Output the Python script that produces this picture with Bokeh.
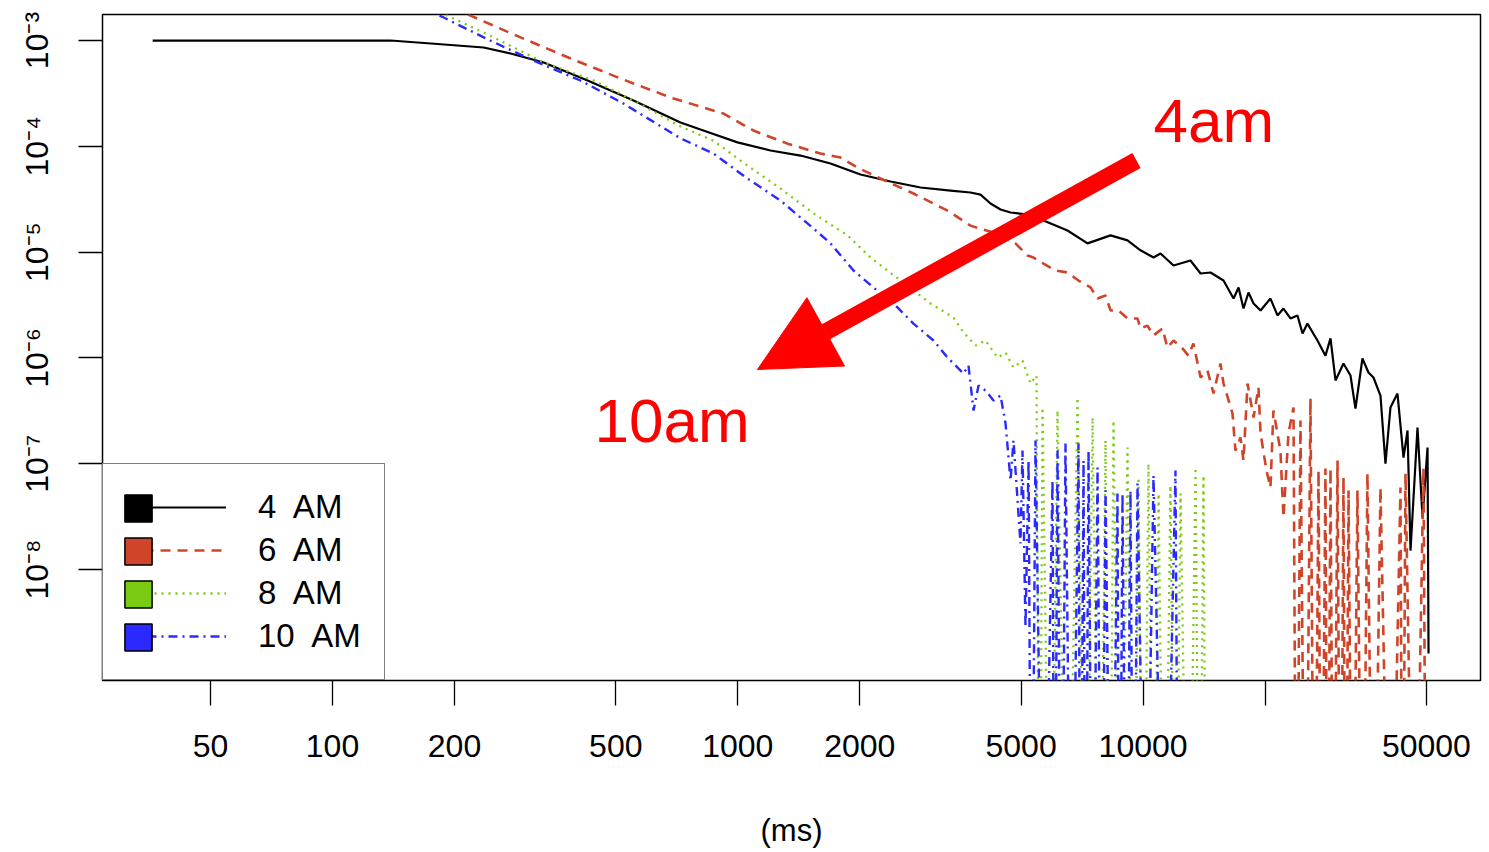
from bokeh.plotting import figure
from bokeh.models import (Range1d, FixedTicker, Legend, LegendItem, Arrow,
                          NormalHead, Label)
from bokeh.embed import file_html
from bokeh.resources import INLINE

FONT = "Liberation Sans"
NAN = float("nan")

# ---------------- axis ticks ----------------
x_ticks = [50, 100, 200, 500, 1000, 2000, 5000, 10000, 20000, 50000]
x_tick_labels = ["50", "100", "200", "500", "1000", "2000", "5000", "10000", "", "50000"]
y_ticks = [1e-8, 1e-7, 1e-6, 1e-5, 1e-4, 1e-3]
y_tick_labels = ["10\u207b\u2078", "10\u207b\u2077", "10\u207b\u2076",
                 "10\u207b\u2075", "10\u207b\u2074", "10\u207b\u00b3"]

series_labels = ["4  AM", "6  AM", "8  AM", "10  AM"]
series_colors = ["#000000", "#CF4529", "#7BCA14", "#2A2AFF"]

# ---------------- data (1e-12 = empty bin) ----------------
am4_x = [36, 74, 139, 175, 236, 275, 332, 426, 553, 722, 809, 998, 1204, 1428, 1693,
         2008, 2382, 2824, 3348, 3751, 3971, 4203, 4449, 4709, 5128, 5679, 6508, 7293,
         8311, 9152, 9854, 10610, 11040, 11890, 13090, 13860, 14670, 15790, 16720,
         17200, 17690, 18200, 18730, 19490, 20620, 21460, 22200, 23100, 24040, 24740,
         25440, 26930, 28180, 29000, 29840, 31220, 32490, 33420, 34770, 35980, 37020,
         38520, 39630, 40770, 42430, 43910, 44920, 45690, 47540, 48920, 50330, 50620]
am4_y = [1.00e-3, 1.00e-3, 1.00e-3, 9.37e-4, 8.59e-4, 7.54e-4, 6.20e-4, 4.19e-4, 2.71e-4,
         1.68e-4, 1.44e-4, 1.09e-4, 9.13e-5, 8.18e-5, 6.88e-5, 5.41e-5, 4.65e-5, 4.08e-5,
         3.82e-5, 3.66e-5, 3.50e-5, 2.88e-5, 2.53e-5, 2.37e-5, 2.27e-5, 1.99e-5, 1.60e-5,
         1.21e-5, 1.44e-5, 1.29e-5, 1.04e-5, 8.89e-6, 9.70e-6, 7.47e-6, 8.33e-6, 6.28e-6,
         6.42e-6, 5.39e-6, 3.64e-6, 4.63e-6, 2.93e-6, 4.15e-6, 3.27e-6, 2.81e-6, 3.64e-6,
         2.52e-6, 2.93e-6, 2.36e-6, 2.52e-6, 1.70e-6, 2.11e-6, 1.46e-6, 1.05e-6, 1.53e-6,
         6.12e-7, 8.85e-7, 6.82e-7, 3.32e-7, 9.87e-7, 7.28e-7, 6.53e-7, 4.41e-7, 1.00e-7,
         3.40e-7, 4.61e-7, 1.14e-7, 2.06e-7, 1.51e-8, 2.20e-7, 3.10e-8, 1.42e-7, 1.61e-9]

am6_x = [165, 219, 291, 387, 514, 694, 922, 1093, 1326, 1600, 1792, 1974, 2250, 2713,
         3292, 3751, 4275, 4844, 5186, 5365, 5679, 6079, 6508, 6928, 7419, 7720, 8078,
         8311, 8696, 9152, 9687, 9854, 10250, 10610, 11170, 11480, 11890, 12510, 12940,
         13310, 13860, 14420, 14920, 15520, 15790, 16620, 16900, 17390, 17690, 18100,
         18730, 19260, 19490, 20160, 20620, 20970, 21820, 22200, 22840, 23500, 23900,
         24450, 25160, 25880, 26480, 27090, 27550, 28180, 28510, 29000, 29500, 30180,
         30700, 31220, 31590, 32130, 32860, 33800, 34770, 35770, 37020, 38520, 40770,
         43160, 43650, 44400, 46720, 49180, 50040]
am6_y = [2.66e-3, 1.72e-3, 1.07e-3, 6.76e-4, 4.37e-4, 2.83e-4, 2.04e-4, 1.41e-4, 1.06e-4,
         8.55e-5, 7.84e-5, 6.30e-5, 4.96e-5, 3.58e-5, 2.47e-5, 1.78e-5, 1.53e-5, 1.21e-5,
         9.29e-6, 8.89e-6, 7.80e-6, 6.70e-6, 6.42e-6, 5.39e-6, 4.63e-6, 3.64e-6, 3.89e-6,
         2.81e-6, 2.81e-6, 2.36e-6, 2.36e-6, 1.90e-6, 2.02e-6, 1.63e-6, 1.90e-6, 1.25e-6,
         1.46e-6, 1.23e-6, 1.05e-6, 1.37e-6, 6.53e-7, 7.60e-7, 4.61e-7, 8.85e-7, 5.73e-7,
         2.98e-7, 1.33e-7, 1.77e-7, 1.07e-7, 5.73e-7, 2.73e-7, 5.25e-7, 1.93e-7, 8.62e-8,
         5.96e-8, 3.18e-7, 1.33e-7, 3.10e-8, 1.93e-7, 3.40e-7, 1e-12, 2.56e-7, 1e-12,
         4.13e-7, 1e-12, 8.62e-8, 1e-12, 9.01e-8, 1e-12, 9.01e-8, 1e-12, 1.07e-7, 1e-12,
         7.41e-8, 1e-12, 5.58e-8, 1e-12, 5.58e-8, 1e-12, 8.08e-8, 1e-12, 5.96e-8, 1e-12,
         5.96e-8, 1e-12, 8.08e-8, 1e-12, 9.01e-8, 1e-12]

am8_x = [165, 192, 245, 332, 441, 553, 722, 871, 1056, 1275, 1538, 1865, 2125, 2341,
         2713, 2989, 3405, 3605, 3860, 4085, 4374, 4577, 4789, 5040, 5275, 5458, 5551,
         5647, 5909, 6149, 6508, 6890, 7210, 7505, 7806, 8078, 8263, 8453, 8795, 9152,
         9471, 9743, 10020, 10310, 10610, 10920, 11290, 11680, 12020, 12370, 12940,
         13470, 13780, 14090, 14330]
am8_y = [2.29e-3, 1.72e-3, 1.11e-3, 6.20e-4, 4.19e-4, 2.71e-4, 1.54e-4, 1.13e-4, 6.58e-5,
         3.99e-5, 2.32e-5, 1.44e-5, 8.89e-6, 6.70e-6, 4.34e-6, 3.27e-6, 2.41e-6, 1.74e-6,
         1.31e-6, 1.46e-6, 1.01e-6, 1.12e-6, 8.11e-7, 9.45e-7, 5.73e-7, 6.82e-7, 1e-12,
         3.40e-7, 1e-12, 3.18e-7, 1e-12, 4.22e-7, 1e-12, 2.73e-7, 1e-12, 1.66e-7, 1e-12,
         2.56e-7, 1e-12, 1.42e-7, 1e-12, 7.41e-8, 1e-12, 1.00e-7, 1e-12, 5.23e-8, 1e-12,
         6.22e-8, 1e-12, 5.23e-8, 1e-12, 9.21e-8, 1e-12, 7.74e-8, 1e-12]

am10_x = [165, 188, 245, 313, 409, 522, 722, 871, 1056, 1275, 1538, 1693, 1930, 2162,
          2477, 2713, 3040, 3292, 3605, 3708, 3816, 3926, 4085, 4275, 4449, 4577, 4709,
          4789, 4983, 5040, 5127, 5217, 5305, 5427, 5679, 5977, 6045, 6149, 6291, 6434,
          6657, 6928, 7008, 7129, 7210, 7334, 7505, 7720, 7898, 8078, 8356, 8646, 8746,
          8896, 9099, 9309, 9471, 9687, 10140, 10610, 11290, 12020, 12230]
am10_y = [2.10e-3, 1.65e-3, 1.00e-3, 6.47e-4, 4.19e-4, 2.54e-4, 1.19e-4, 8.55e-5, 4.96e-5,
          3.07e-5, 1.67e-5, 1.21e-5, 6.70e-6, 4.63e-6, 3.00e-6, 2.11e-6, 1.46e-6, 1.01e-6,
          7.12e-7, 8.47e-7, 3.18e-7, 5.48e-7, 4.92e-7, 3.96e-7, 4.41e-7, 2.40e-7, 6.94e-8,
          1.66e-7, 1.76e-8, 1.33e-7, 2.83e-9, 1.07e-7, 1e-12, 1.66e-7, 1e-12, 6.94e-8,
          1e-12, 1.33e-7, 1e-12, 1.55e-7, 1e-12, 1.55e-7, 1e-12, 1.07e-7, 1e-12, 1.33e-7,
          1e-12, 9.21e-8, 1e-12, 5.58e-8, 1e-12, 5.23e-8, 1e-12, 5.23e-8, 1e-12, 5.58e-8,
          1e-12, 6.50e-8, 1e-12, 7.74e-8, 1e-12, 8.62e-8, 1e-12]

# annotation (arrow from "4am" to "10am")
arrow_start = (9632, 7.34e-5)
arrow_end = (1118, 7.77e-7)
label_4am = (10610, 1.75e-4)
label_10am = (443, 2.56e-7)

# ---------------- figure ----------------
p = figure(width=1486, height=851, x_axis_type="log", y_axis_type="log",
           x_range=Range1d(27.07, 68000), y_range=Range1d(8.93e-10, 1.762e-3),
           output_backend="svg", toolbar_location=None,
           min_border_left=102, min_border_right=6, min_border_top=14,
           min_border_bottom=171)
p.background_fill_color = "white"
p.border_fill_color = "white"
p.outline_line_color = "black"
p.outline_line_width = 1.5
p.xgrid.visible = False
p.ygrid.visible = False

xa = p.xaxis[0]
xa.ticker = FixedTicker(ticks=x_ticks)
xa.major_label_overrides = {t: s for t, s in zip(x_ticks, x_tick_labels)}
ya = p.yaxis[0]
ya.ticker = FixedTicker(ticks=y_ticks)
ya.major_label_overrides = {t: s for t, s in zip(y_ticks, y_tick_labels)}
ya.major_label_orientation = "vertical"

for ax in (xa, ya):
    ax.axis_line_color = None
    ax.major_tick_line_color = "black"
    ax.major_tick_line_width = 1.3
    ax.major_tick_in = 0
    ax.minor_tick_line_color = None
    ax.major_label_text_font = FONT
    ax.major_label_text_font_size = "32px"
    ax.major_label_text_color = "black"
xa.major_tick_out = 25
xa.major_label_standoff = 29
ya.major_tick_out = 24
ya.major_label_standoff = 23
xa.axis_label = "(ms)"
xa.axis_label_text_font = FONT
xa.axis_label_text_font_size = "31px"
xa.axis_label_text_font_style = "normal"
xa.axis_label_text_color = "black"
xa.axis_label_standoff = 53

styles = [
    dict(line_width=2.2),
    dict(line_width=2.6, line_dash="10 7"),
    dict(line_width=2.3, line_dash="2 5"),
    dict(line_width=2.4, line_dash="9 5 2 5"),
]
data = [(am4_x, am4_y), (am6_x, am6_y), (am8_x, am8_y), (am10_x, am10_y)]
line_rs = []
for (xs, ys), col, st in zip(data, series_colors, styles):
    line_rs.append(p.line(xs, ys, line_color=col, **st))

# square swatches for the legend (no visible data)
sq_rs = []
for col in series_colors:
    sq_rs.append(p.quad(left=[NAN], right=[NAN], top=[NAN], bottom=[NAN],
                        fill_color=col, line_color="black", line_width=1.5))

legend_lines = Legend(
    items=[LegendItem(label=l, renderers=[r]) for l, r in zip(series_labels, line_rs)],
    location="bottom_left", margin=0, padding=23, spacing=3,
    glyph_width=100, glyph_height=40, label_height=40, label_standoff=32,
    label_text_font=FONT, label_text_font_size="33px", label_text_color="black",
    border_line_color="black", border_line_width=1.5,
    background_fill_color="white", background_fill_alpha=1.0)
p.add_layout(legend_lines)

legend_boxes = Legend(
    items=[LegendItem(label="", renderers=[r]) for r in sq_rs],
    location=(19, 26), margin=0, padding=0, spacing=9,
    glyph_width=34, glyph_height=34, label_height=34, label_standoff=0,
    label_text_font=FONT, label_text_font_size="10px",
    border_line_color=None, background_fill_alpha=0.0)
p.add_layout(legend_boxes)

p.add_layout(Arrow(end=NormalHead(size=78, fill_color="#FF0000", line_color="#FF0000",
                                  line_width=1),
                   x_start=arrow_start[0], y_start=arrow_start[1],
                   x_end=arrow_end[0], y_end=arrow_end[1],
                   line_color="#FF0000", line_width=17))
p.add_layout(Label(x=label_4am[0], y=label_4am[1], text="4am", text_font=FONT,
                   text_font_size="62px", text_color="#FF0000",
                   text_baseline="middle"))
p.add_layout(Label(x=label_10am[0], y=label_10am[1], text="10am", text_font=FONT,
                   text_font_size="62px", text_color="#FF0000",
                   text_baseline="middle"))

open("out.html", "w").write(file_html(p, INLINE))
